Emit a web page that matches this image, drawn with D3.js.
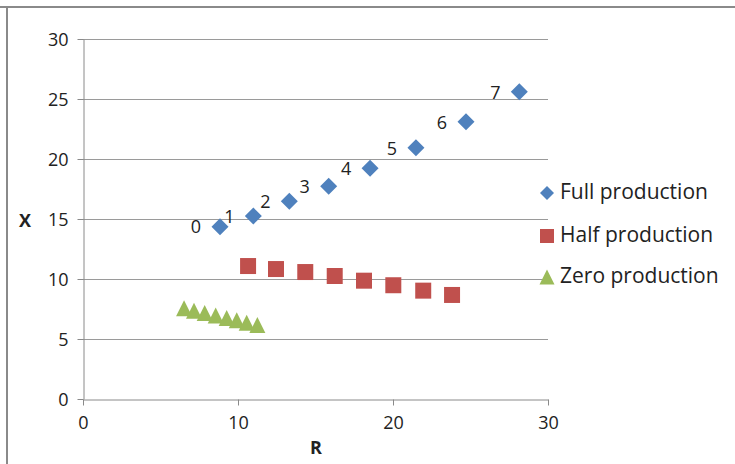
<!DOCTYPE html>
<html>
<head>
<meta charset="utf-8">
<script src="https://cdn.jsdelivr.net/npm/d3@7"></script>
<style>
  html, body { margin: 0; padding: 0; background: #fff; }
  svg { display: block; }
  text { font-family: "Open Sans", "Liberation Sans", sans-serif; fill: #222; }
</style>
</head>
<body>
<svg id="chart" width="735" height="464"></svg>
<script>
// ---- data ----
const seriesNames = ["Full production", "Half production", "Zero production"];
const fullR = [8.84, 10.99, 13.31, 15.85, 18.52, 21.48, 24.71, 28.15];
const fullX = [14.36, 15.25, 16.47, 17.72, 19.22, 20.94, 23.1, 25.6];
const fullLabels = ["0", "1", "2", "3", "4", "5", "6", "7"];
const halfR = [10.65, 12.45, 14.34, 16.24, 18.13, 20.02, 21.95, 23.81];
const halfX = [11.08, 10.83, 10.58, 10.25, 9.86, 9.48, 9.03, 8.67];
const zeroR = [6.52, 7.16, 7.85, 8.56, 9.27, 9.92, 10.56, 11.25];
const zeroX = [7.56, 7.36, 7.16, 6.96, 6.76, 6.56, 6.36, 6.17];
const xTicks = [0, 10, 20, 30];
const yTicks = [0, 5, 10, 15, 20, 25, 30];
const colors = ["#4F81BD", "#C0504D", "#9BBB59"];

const svg = d3.select("#chart");

// outer chart border (top and left visible)
svg.append("line").attr("x1", 0).attr("x2", 735).attr("y1", 7).attr("y2", 7)
  .attr("stroke", "#8a8a8a").attr("stroke-width", 2);
svg.append("line").attr("x1", 7).attr("x2", 7).attr("y1", 6).attr("y2", 464)
  .attr("stroke", "#8a8a8a").attr("stroke-width", 2);

const x = d3.scaleLinear().domain([0, 30]).range([83, 548]);
const y = d3.scaleLinear().domain([0, 30]).range([399, 39]);

// gridlines
svg.append("g").selectAll("line").data(yTicks.filter(t => t > 0)).join("line")
  .attr("x1", x(0)).attr("x2", x(30))
  .attr("y1", d => Math.round(y(d)) + 0.5).attr("y2", d => Math.round(y(d)) + 0.5)
  .attr("stroke", "#9a9a9a").attr("stroke-width", 1);

// y axis
const yAxis = svg.append("g").attr("transform", `translate(${Math.round(x(0)) + 0.5},0)`)
  .call(d3.axisLeft(y).tickValues(yTicks).tickSize(6).tickSizeOuter(0).tickPadding(9));
// x axis
const xAxis = svg.append("g").attr("transform", `translate(0,${Math.round(y(0)) + 0.5})`)
  .call(d3.axisBottom(x).tickValues(xTicks).tickSize(6).tickSizeOuter(0).tickPadding(11));
[yAxis, xAxis].forEach(g => {
  g.select(".domain").attr("stroke", "#8a8a8a");
  g.selectAll(".tick line").attr("stroke", "#8a8a8a");
  g.selectAll(".tick text").attr("font-family", "Open Sans, Liberation Sans, sans-serif")
    .attr("font-size", 18).attr("fill", "#222");
});
yAxis.selectAll(".tick text").attr("dy", "0.35em");
xAxis.selectAll(".tick text").attr("dy", "0.71em");

// axis titles
svg.append("text").attr("x", 25).attr("y", 222).attr("text-anchor", "middle")
  .attr("dominant-baseline", "middle").attr("font-size", 18).attr("font-weight", "bold").text("X");
svg.append("text").attr("x", 316).attr("y", 449).attr("text-anchor", "middle")
  .attr("dominant-baseline", "middle").attr("font-size", 18).attr("font-weight", "bold").text("R");

// marker shapes
const diamond = s => `M0,${-s}L${s},0L0,${s}L${-s},0Z`;
const square = s => `M${-s},${-s}H${s}V${s}H${-s}Z`;
const triangle = s => `M0,${-s}L${s},${s}H${-s}Z`;

const full = fullR.map((r, i) => ({ r, v: fullX[i], label: fullLabels[i] }));
const half = halfR.map((r, i) => ({ r, v: halfX[i] }));
const zero = zeroR.map((r, i) => ({ r, v: zeroX[i] }));

svg.append("g").selectAll("path").data(zero).join("path")
  .attr("transform", d => `translate(${x(d.r)},${y(d.v)})`)
  .attr("d", triangle(8)).attr("fill", colors[2]);
svg.append("g").selectAll("path").data(half).join("path")
  .attr("transform", d => `translate(${x(d.r)},${y(d.v)})`)
  .attr("d", square(8)).attr("fill", colors[1]);
svg.append("g").selectAll("path").data(full).join("path")
  .attr("transform", d => `translate(${x(d.r)},${y(d.v)})`)
  .attr("d", diamond(8.5)).attr("fill", colors[0]);

// data labels
svg.append("g").selectAll("text").data(full).join("text")
  .attr("x", d => x(d.r) - 24).attr("y", d => y(d.v) + 2)
  .attr("text-anchor", "middle").attr("dominant-baseline", "middle")
  .attr("font-size", 18).text(d => d.label);

// legend
const legendY = [193, 236, 277];
const shapes = [diamond(7), square(7), triangle(7.5)];
const lg = svg.append("g");
seriesNames.forEach((name, i) => {
  lg.append("path").attr("transform", `translate(547,${legendY[i]})`)
    .attr("d", shapes[i]).attr("fill", colors[i]);
  lg.append("text").attr("x", 560).attr("y", legendY[i]).attr("dominant-baseline", "middle")
    .attr("font-size", 21).text(name);
});
</script>
</body>
</html>
